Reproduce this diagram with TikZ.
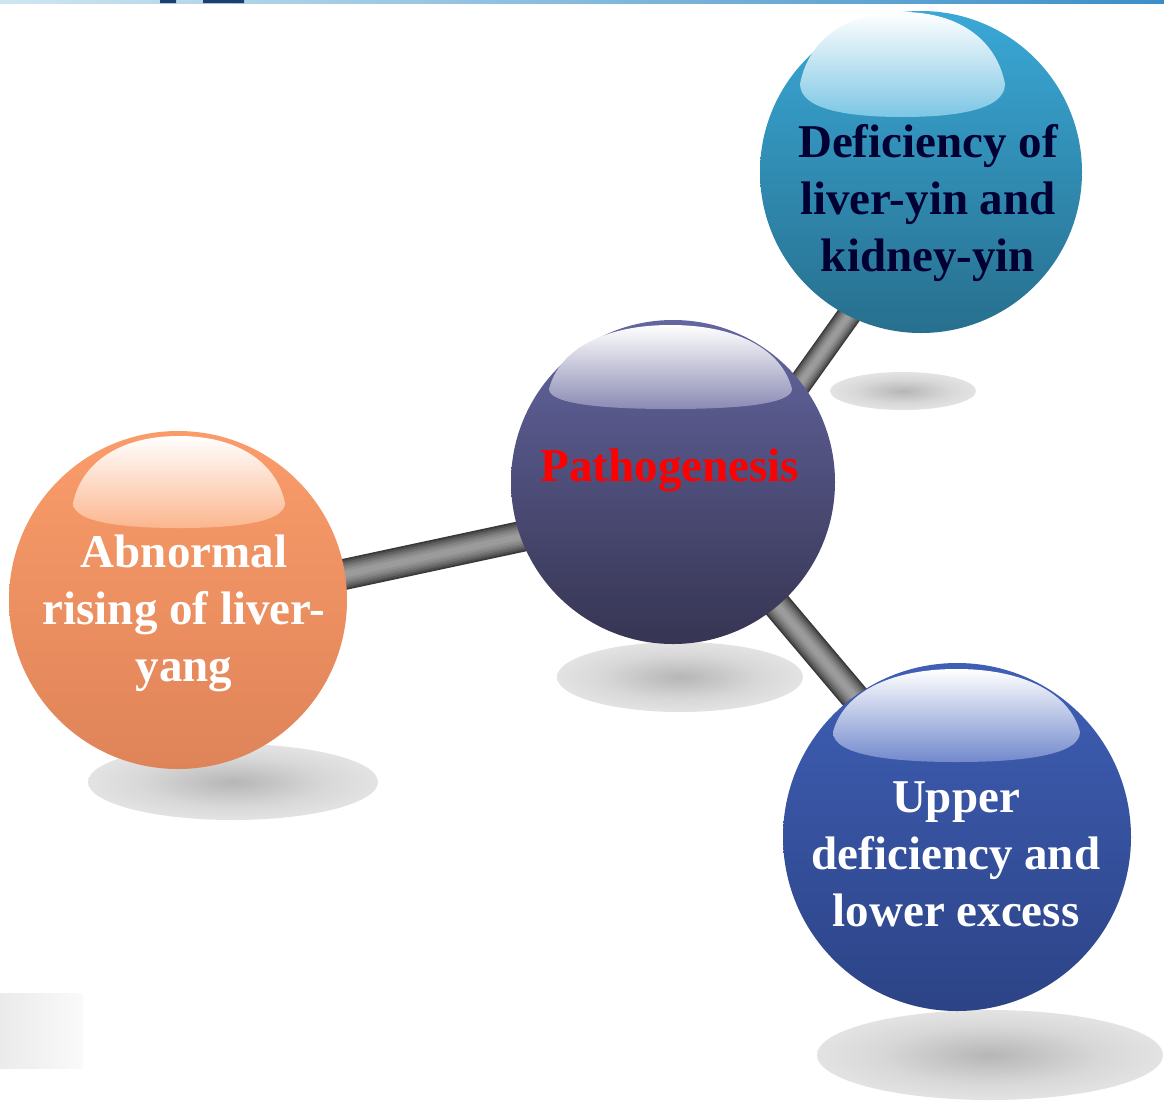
\documentclass[tikz,border=0pt]{standalone}
\usepackage{fontspec}
\setmainfont{Liberation Serif}
\usetikzlibrary{backgrounds}
\definecolor{shA}{HTML}{B6B6B6}
\definecolor{shB}{HTML}{D8D8D8}
\definecolor{shC}{HTML}{EFEFEF}
\definecolor{shD}{HTML}{F7F7F7}
\pgfdeclareradialshading{floorshadow}{\pgfpoint{0bp}{0bp}}{color(0bp)=(shA); color(16bp)=(shB); color(35bp)=(shC); color(50bp)=(shD)}
\definecolor{pTop}{HTML}{6466A0}
\definecolor{pBot}{HTML}{363553}
\definecolor{pHi}{HTML}{8A8AB4}
\definecolor{tTop}{HTML}{3AA8D6}
\definecolor{tBot}{HTML}{276F8E}
\definecolor{tHi}{HTML}{7CC6E4}
\definecolor{lTop}{HTML}{FA9C6A}
\definecolor{lBot}{HTML}{DF8459}
\definecolor{lHi}{HTML}{FBB68E}
\definecolor{bTop}{HTML}{3F5FB5}
\definecolor{bBot}{HTML}{2C4386}
\definecolor{bHi}{HTML}{7289CC}
\definecolor{navyT}{HTML}{000033}
\definecolor{barL}{HTML}{CFE6F0}
\definecolor{barR}{HTML}{3A8EC8}
\definecolor{barD}{HTML}{1A3F70}
\newcommand\glint[7]{%
  \begin{scope}[shift={(#1.center)}]
  \shade[top color=white, bottom color=#7]
   (#2,#5) .. controls ({#2+0.04*(#3-(#2))},{#5-0.6*(#5-(#4))}) and ({#2+0.22*(#3-(#2))},#4) .. ({0.5*(#2+#3)},#4)
   .. controls ({#3-0.22*(#3-(#2))},#4) and ({#3-0.04*(#3-(#2))},{#5-0.6*(#5-(#4))}) .. (#3,#5)
   .. controls (#3,{#5+0.8*(#6-(#5))}) and ({#3-0.25*(#3-(#2))},#6) .. ({0.5*(#2+#3)},#6)
   .. controls ({#2+0.25*(#3-(#2))},#6) and (#2,{#5+0.8*(#6-(#5))}) .. cycle;
  \end{scope}}
\newcommand\rodline[3]{%
  \foreach \f/\c in {1/383838, 0.9/4E4E4E, 0.78/626262, 0.64/747474, 0.5/848484, 0.35/919191, 0.2/9B9B9B}{
    \definecolor{rodc}{HTML}{\c}
    \draw[line width=\f*#3 pt, rodc] #1 -- #2;
  }}
\begin{document}
\begin{tikzpicture}[x=1pt,y=-1pt,
  ball/.style={circle, inner sep=0pt, draw=none},
  lbl/.style={font=\fontsize{47}{57}\selectfont\bfseries, align=center, inner sep=0pt},
  floor/.style={shading=floorshadow}]
\useasboundingbox (0,0) rectangle (1164,1101);
% header strip and corner block
\shade[left color=barL, right color=barR] (0,0) rectangle (1164,3);
\fill[barD] (160,0) rectangle (176,3) (203,0) rectangle (244,3);
\shade[left color=black!8, right color=black!2] (0,993) rectangle (83,1068);
% spheres
\node[ball, minimum size=324pt, top color=pTop, bottom color=pBot] (P) at (673,482) {};
\node[ball, minimum size=322pt, top color=tTop, bottom color=tBot] (T) at (921,172) {};
\node[ball, minimum size=338pt, top color=lTop, bottom color=lBot] (L) at (178,600) {};
\node[ball, minimum size=348pt, top color=bTop, bottom color=bBot] (B) at (957,837) {};
\begin{pgfonlayer}{background}
  \shade[floor] (680,677) ellipse [x radius=123, y radius=35];
  \shade[floor] (903,391) ellipse [x radius=73, y radius=19];
  \shade[floor] (233,782) ellipse [x radius=145, y radius=38];
  \shade[floor] (990,1055) ellipse [x radius=173, y radius=45];
  \rodline{([xshift=57pt]P.center)}{([xshift=30pt]T.center)}{24}
  \rodline{([yshift=-22pt]P.center)}{([yshift=-10pt]L.center)}{31}
  \rodline{(P.center)}{([xshift=16pt]B.center)}{29}
\end{pgfonlayer}
% highlights
\glint{P}{-124}{119}{-157}{-93}{-73}{pHi}
\glint{T}{-121}{84}{-160}{-88}{-55}{tHi}
\glint{L}{-105}{107}{-164}{-97}{-72}{lHi}
\glint{B}{-124}{123}{-168}{-105}{-75}{bHi}
% labels
\node[lbl, text=red] (Pt) at (670,470) {Pathogenesis};
\node[lbl, text=navyT] (Tt) at (928,203) {Deficiency of\\liver-yin and\\kidney-yin};
\node[lbl, text=white] (Lt) at (184,613) {Abnormal\\rising of liver-\\yang};
\node[lbl, text=white] (Bt) at (956,854) {Upper\\deficiency and\\lower excess};
\end{tikzpicture}
\end{document}
